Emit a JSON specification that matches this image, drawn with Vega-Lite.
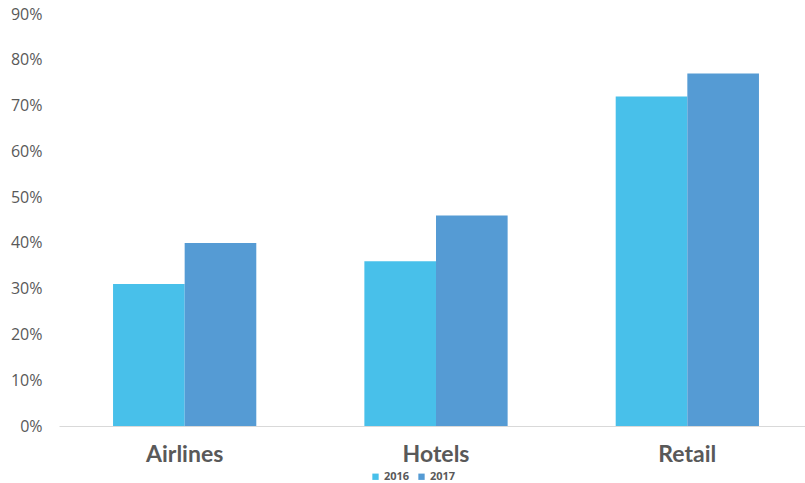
{
  "$schema": "https://vega.github.io/schema/vega-lite/v6.json",
  "autosize": {"type": "none"},
  "padding": {"left": 59, "top": 14, "right": 0, "bottom": 57},
  "width": 754,
  "height": 412,
  "background": "white",
  "data": {"values": [
    {"category": "Airlines", "year": "2016", "value": 0.31},
    {"category": "Airlines", "year": "2017", "value": 0.40},
    {"category": "Hotels", "year": "2016", "value": 0.36},
    {"category": "Hotels", "year": "2017", "value": 0.46},
    {"category": "Retail", "year": "2016", "value": 0.72},
    {"category": "Retail", "year": "2017", "value": 0.77}
  ]},
  "mark": {"type": "bar"},
  "encoding": {
    "x": {"field": "category", "type": "nominal", "sort": null,
      "scale": {"paddingInner": 0.43, "paddingOuter": 0.215},
      "axis": {"title": null, "labelAngle": 0, "labelFont": "Lato", "labelFontSize": 23, "labelFontWeight": "bold", "labelColor": "#595959", "ticks": false, "domainColor": "#d9d9d9", "domainWidth": 1, "labelPadding": 17}},
    "xOffset": {"field": "year", "type": "nominal"},
    "y": {"field": "value", "type": "quantitative",
      "scale": {"domain": [0, 0.9]},
      "axis": {"title": null, "format": ".0%", "values": [0,0.1,0.2,0.3,0.4,0.5,0.6,0.7,0.8,0.9], "grid": false, "domain": false, "ticks": false, "labelFont": "Open Sans", "labelFontSize": 16, "labelColor": "#595959", "labelPadding": 17}},
    "color": {"field": "year", "type": "nominal",
      "scale": {"domain": ["2016", "2017"], "range": ["#48C0EA", "#559BD4"]},
      "legend": {"title": null, "orient": "none", "direction": "horizontal", "legendX": 311, "legendY": 457, "padding": 0, "symbolType": "square", "symbolSize": 40, "symbolStrokeWidth": 0, "labelFont": "Open Sans", "labelFontSize": 11, "labelFontWeight": "bold", "labelColor": "#595959", "columnPadding": 6, "labelOffset": 3}}
  },
  "config": {"view": {"stroke": null}}
}
